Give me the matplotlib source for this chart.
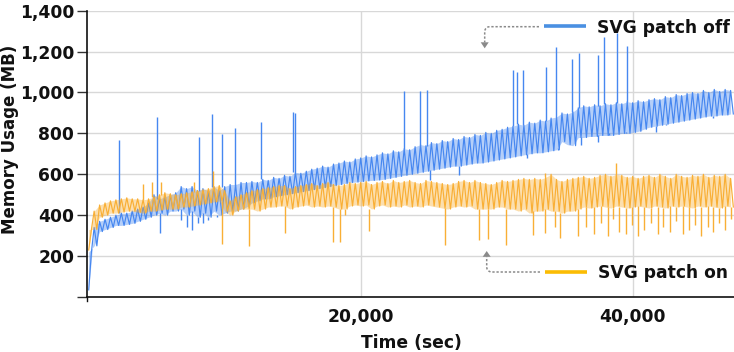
import numpy as np
import matplotlib
matplotlib.use("Agg")
import matplotlib.pyplot as plt
from matplotlib.patches import Polygon

plt.rcParams['font.family'] = ['DejaVu Sans']
plt.rcParams['font.weight'] = 'bold'

# ---------------- data ----------------
sample_step = 400  # seconds between successive (high, low) readings

blue_hi = [35, 340, 370, 380, 390, 400, 410, 410, 420, 430,
           440, 460, 500, 480, 490, 500, 510, 540, 530, 540,
           520, 530, 520, 540, 520, 540, 550, 550, 560, 560,
           565, 560, 575, 570, 585, 580, 595, 590, 610, 605,
           615, 625, 630, 640, 635, 650, 655, 665, 660, 675,
           680, 690, 685, 695, 705, 700, 715, 710, 725, 720,
           735, 745, 740, 755, 750, 765, 760, 775, 770, 785,
           780, 795, 790, 805, 800, 815, 820, 830, 835, 845,
           840, 855, 850, 865, 860, 875, 880, 900, 895, 905,
           925, 935, 930, 940, 935, 945, 940, 950, 945, 955,
           950, 960, 955, 965, 970, 965, 980, 975, 990, 985,
           995, 1000, 995, 1010, 1000, 1015, 1005, 1015, 1010]
blue_lo = [220, 250, 320, 330, 340, 350, 350, 355, 360, 370,
           380, 390, 400, 410, 400, 420, 420, 430, 400, 420,
           390, 410, 390, 420, 400, 410, 420, 420, 430, 440,
           460, 470, 480, 480, 490, 495, 500, 505, 510, 515,
           520, 525, 530, 535, 540, 545, 550, 555, 560, 562,
           565, 568, 570, 572, 575, 580, 585, 590, 595, 600,
           605, 610, 615, 620, 625, 630, 635, 640, 640, 645,
           650, 655, 655, 660, 665, 670, 675, 680, 685, 690,
           695, 700, 705, 705, 710, 715, 720, 760, 745, 740,
           780, 780, 785, 785, 790, 790, 790, 795, 800, 800,
           805, 810, 820, 830, 835, 840, 845, 850, 855, 860,
           865, 870, 875, 880, 885, 885, 890, 890, 895]

blue_spike_t = [2228, 5022, 8133, 9088, 9802, 10757, 12691, 15059, 15133,
                23162, 24339, 24853, 31221, 31515, 31956, 33662, 34397,
                35559, 36029, 37449, 37912, 38846, 39559]
blue_spike_v = [768, 880, 782, 895, 797, 826, 857, 906, 900,
                1007, 1009, 1012, 1110, 1100, 1110, 1123, 1222,
                1165, 1193, 1183, 1271, 1291, 1227]

blue_dip_t = [5243, 6765, 7228, 7574, 8037, 8405, 8773, 9456, 25096, 27206,
              32228, 34508, 36199, 37427, 38258, 39508, 41714, 42449, 45883]
blue_dip_v = [315, 376, 344, 328, 362, 360, 376, 393, 572, 597,
              680, 729, 743, 760, 802, 808, 808, 841, 875]

orange_hi = [230, 420, 450, 460, 470, 475, 480, 485, 480, 480,
             475, 480, 490, 500, 510, 505, 500, 505, 510, 515,
             520, 525, 530, 540, 545, 520, 470, 490, 500, 510,
             520, 525, 530, 535, 540, 545, 545, 530, 540, 545,
             550, 555, 545, 555, 560, 550, 545, 550, 560, 555,
             560, 565, 550, 560, 565, 555, 570, 560, 565, 570,
             560, 555, 570, 565, 560, 555, 550, 555, 565, 570,
             560, 570, 560, 555, 550, 560, 570, 565, 570, 575,
             580, 575, 580, 575, 585, 600, 575, 565, 575, 580,
             585, 590, 580, 585, 595, 600, 590, 600, 595, 585,
             590, 580, 590, 595, 585, 600, 590, 580, 600, 590,
             585, 595, 590, 600, 585, 595, 590, 600, 580]
orange_lo = [330, 330, 390, 400, 410, 410, 415, 420, 420, 415,
             410, 420, 420, 425, 430, 430, 430, 440, 440, 445,
             450, 455, 460, 465, 470, 420, 400, 420, 430, 430,
             430, 420, 430, 440, 440, 445, 445, 430, 440, 445,
             450, 440, 445, 440, 445, 440, 430, 430, 445, 450,
             445, 450, 430, 445, 450, 440, 445, 440, 450, 440,
             445, 440, 450, 445, 440, 435, 430, 440, 445, 440,
             445, 430, 430, 430, 430, 440, 440, 430, 430, 420,
             430, 410, 420, 420, 430, 420, 420, 410, 420, 420,
             430, 440, 435, 440, 445, 440, 435, 445, 440, 435,
             440, 445, 440, 435, 445, 440, 435, 445, 440, 445,
             440, 435, 445, 440, 445, 440, 435, 445, 440]

orange_peak_t = [3993, 4654, 5316, 7742, 9140, 33574, 38780]
orange_peak_v = [555, 560, 560, 560, 618, 606, 655]

orange_dip_t = [9780, 11787, 14434, 17964, 18478, 18824, 20611, 26199, 28699,
                29383, 30721, 32670, 33589, 34287, 34655,
                35956, 36567, 37177, 37670, 38162, 38530, 39015, 39508, 39950,
                40369, 40854, 41347, 41839, 42251, 42744, 43185, 43677, 44163,
                44582, 45023, 45516, 45883, 46368, 46787, 47228]
orange_dip_v = [259, 251, 313, 270, 270, 400, 325, 254, 279,
                285, 254, 303, 311, 344, 290,
                300, 340, 310, 360, 300, 380, 320, 310, 350,
                300, 330, 360, 310, 340, 320, 370, 310, 330,
                350, 300, 340, 320, 360, 330, 380]

y_ticks = [0, 200, 400, 600, 800, 1000, 1200, 1400]
y_tick_labels = ['', '200', '400', '600', '800', '1,000', '1,200', '1,400']
x_ticks = [20000, 40000]
x_tick_labels = ['20,000', '40,000']
series_names = ['SVG patch off', 'SVG patch on']

BLUE = '#4687F0'
ORANGE = '#F9AF35'
LEG_BLUE = '#4A90E2'
LEG_ORANGE = '#FBBC04'
W, H = 734, 352


def draw_series(ax, hi, lo, up_t, up_v, dn_t, dn_v, color, z):
    hi = np.asarray(hi, float)
    lo = np.asarray(lo, float)
    t = np.arange(len(hi)) * sample_step
    ax.fill_between(t, lo, hi, color=color, alpha=0.4, lw=0, zorder=z)
    # readings drawn in order: high, then the low half a step later
    zt = np.ravel(np.column_stack([t, t + sample_step / 2]))
    zv = np.ravel(np.column_stack([hi, lo]))
    ax.plot(zt, zv, color=color, lw=0.85, zorder=z + 0.5)
    # spikes upward start at the nearest reading's high; dips at its low
    iu = np.clip(np.rint(np.asarray(up_t) / sample_step).astype(int), 0, len(hi) - 1)
    ax.vlines(up_t, hi[iu], up_v, color=color, lw=1.0, zorder=z + 0.5)
    idn = np.clip(np.rint(np.asarray(dn_t) / sample_step).astype(int), 0, len(hi) - 1)
    ax.vlines(dn_t, dn_v, lo[idn], color=color, lw=1.0, zorder=z + 0.5)


fig = plt.figure(figsize=(W / 100, H / 100), dpi=100)
ax = fig.add_axes([87 / W, (H - 297) / H, (W - 87) / W, (297 - 10.7) / H])

draw_series(ax, blue_hi, blue_lo, blue_spike_t, blue_spike_v, blue_dip_t, blue_dip_v, BLUE, 2)
draw_series(ax, orange_hi, orange_lo, orange_peak_t, orange_peak_v, orange_dip_t,
            orange_dip_v, ORANGE, 4)

ax.set_xlim(-125, 47450)
ax.set_ylim(0, 1400)
ax.set_yticks(y_ticks)
ax.set_yticklabels(y_tick_labels)
ax.set_xticks(x_ticks)
ax.set_xticklabels(x_tick_labels)
ax.grid(True, color='#d8d8d8', lw=1.0, zorder=0)
ax.set_axisbelow(True)
for s in ['top', 'right']:
    ax.spines[s].set_visible(False)
for s in ['left', 'bottom']:
    ax.spines[s].set_color('#111111')
    ax.spines[s].set_linewidth(1.2)
ax.tick_params(axis='y', direction='out', length=7.2, width=1.0, color='#333333',
               pad=2, labelsize=12.3, labelcolor='#111111')
ax.tick_params(axis='x', length=0, pad=8, labelsize=12.3, labelcolor='#111111')
for lab in ax.get_xticklabels() + ax.get_yticklabels():
    lab.set_fontweight('bold')

# overlay in pixel coordinates for legend / labels
ov = fig.add_axes([0, 0, 1, 1], facecolor='none')
ov.set_xlim(0, W)
ov.set_ylim(H, 0)
ov.axis('off')

# small extension of y-axis below x-axis
ov.plot([87, 87], [297, 301], color='#111111', lw=1.0)

ov.text(10, 139.5, 'Memory Usage (MB)', rotation=90, ha='center', va='center',
        fontsize=12.0, fontweight='bold', color='#111111')
ov.text(411, 342.5, 'Time (sec)', ha='center', va='center',
        fontsize=12.3, fontweight='bold', color='#111111')

# legend: patch off
ov.plot([544, 586], [25.7, 25.7], color=LEG_BLUE, lw=2.6, solid_capstyle='butt')
ov.text(597, 33.3, series_names[0], ha='left', va='baseline', fontsize=12.3,
        fontweight='bold', color='#111111')
arc = np.linspace(0, np.pi / 2, 8)
r = 5
cx, cy = 484.7 + r, 26.7 + r
ax_x = [539] + list(cx - r * np.sin(arc)) + [484.7]
ax_y = [26.7] + list(cy - r * np.cos(arc)) + [42.5]
ov.plot(ax_x, ax_y, color='#8a8a8a', lw=1.1, ls=(0, (1.5, 1.2)))
ov.add_patch(Polygon([[480.7, 42.3], [488.7, 42.3], [484.7, 48.3]], closed=True,
                     color='#8a8a8a', lw=0))

# legend: patch on
ov.plot([545, 587], [272, 272], color=LEG_ORANGE, lw=2.6, solid_capstyle='butt')
ov.text(597.7, 278.3, series_names[1], ha='left', va='baseline', fontsize=12.3,
        fontweight='bold', color='#111111')
cx2, cy2 = 486.7 + r, 272 - r
bx = [540] + list(cx2 - r * np.sin(arc)) + [486.7]
by = [272] + list(cy2 + r * np.cos(arc)) + [256.5]
ov.plot(bx, by, color='#8a8a8a', lw=1.1, ls=(0, (1.5, 1.2)))
ov.add_patch(Polygon([[482.7, 256.8], [490.7, 256.8], [486.7, 251]], closed=True,
                     color='#8a8a8a', lw=0))

fig.savefig('out.png', dpi=100)
